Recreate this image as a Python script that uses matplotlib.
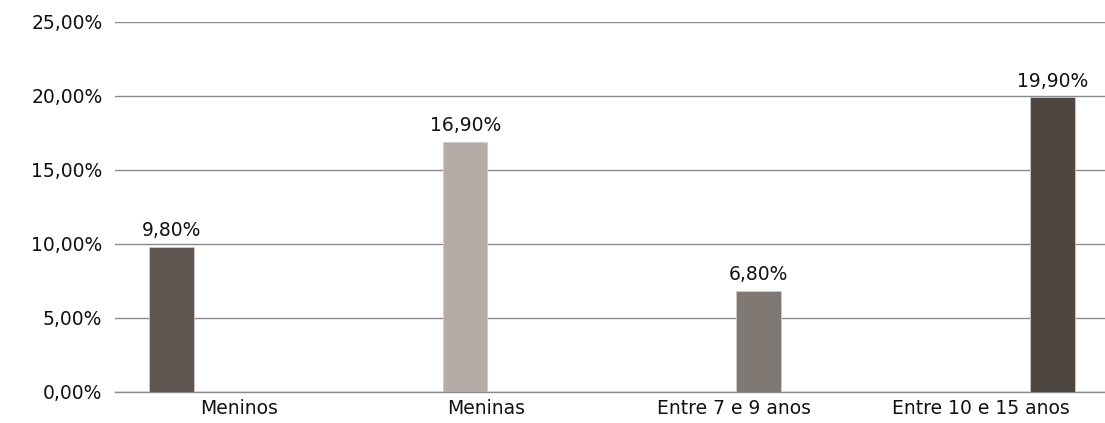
import matplotlib
matplotlib.use("Agg")
import matplotlib.pyplot as plt
import numpy as np
from matplotlib.ticker import FuncFormatter

categories = ["Meninos", "Meninas", "Entre 7 e 9 anos", "Entre 10 e 15 anos"]
values = [9.8, 16.9, 6.8, 19.9]
colors = ["#5f5651", "#b5aca7", "#807873", "#4d4641"]
yticks = [0, 5, 10, 15, 20, 25]


def pct(v, pos=None):
    return ("%.2f%%" % v).replace(".", ",")


plt.rcParams["font.family"] = ["DejaVu Sans"]

fig = plt.figure(figsize=(11.05, 4.23), dpi=100)
ax = fig.add_axes([0.104, 0.074, 0.896, 0.874])

# clustered layout: one slot per series in every category,
# each series only has a value in its own category
x = np.arange(len(categories))
slot = 0.186
group_start = -2 * slot + 0.008
for i, v in enumerate(values):
    xpos = x[i] + group_start + slot * (i + 0.5)
    ax.bar(xpos, v, width=0.18, color=colors[i], edgecolor="#cfcac6",
           linewidth=0.6, zorder=3)
    ax.text(xpos, v + 0.45, pct(v), ha="center", va="bottom",
            fontsize=13.5, color="#111111", zorder=4)

ax.set_xlim(-0.5, len(categories) - 0.5)
ax.set_ylim(0, 25)
ax.set_yticks(yticks)
ax.yaxis.set_major_formatter(FuncFormatter(pct))
ax.set_xticks(x)
ax.set_xticklabels(categories)

ax.grid(axis="y", color="#8a8a8a", linewidth=1.0, zorder=0)
ax.tick_params(axis="both", length=0, labelsize=13.5, colors="#111111")
ax.tick_params(axis="y", pad=9)
ax.tick_params(axis="x", pad=5)
for side in ["top", "right", "left"]:
    ax.spines[side].set_visible(False)
ax.spines["bottom"].set_color("#8a8a8a")
ax.spines["bottom"].set_linewidth(1.0)

fig.savefig("out.png", dpi=100, facecolor="white")
